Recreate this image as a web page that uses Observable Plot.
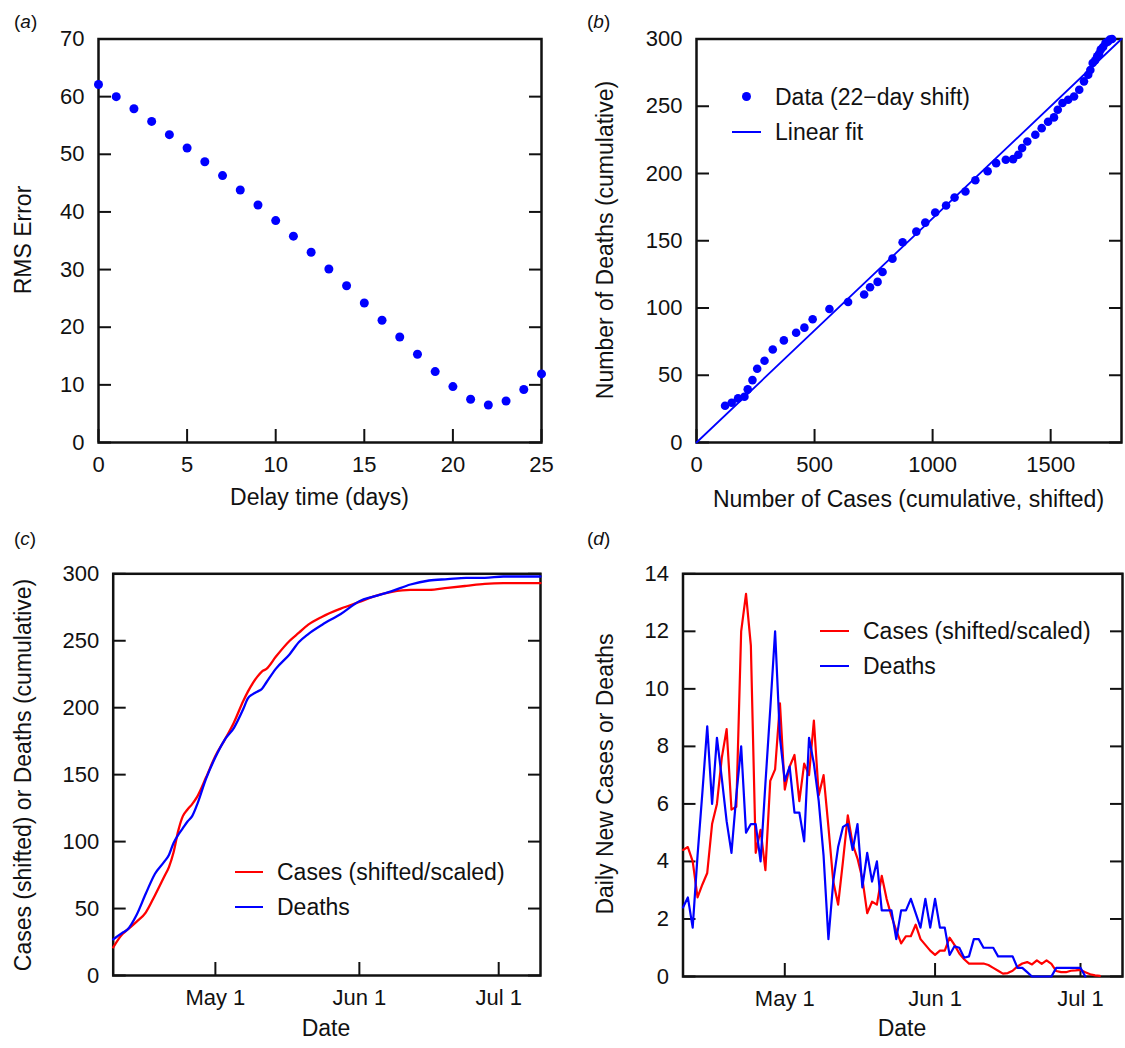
<!DOCTYPE html>
<html>
<head>
<meta charset="utf-8">
<script src="https://cdn.jsdelivr.net/npm/d3@7"></script>
<script src="https://cdn.jsdelivr.net/npm/@observablehq/plot@0.6"></script>
<style>
  html, body { margin: 0; padding: 0; background: #ffffff; }
  #root { position: relative; width: 1125px; height: 1048px; overflow: hidden;
          font-family: "Liberation Sans", Arial, Helvetica, sans-serif; color: #111; }
  #root svg { overflow: visible; }
  .abs { position: absolute; white-space: nowrap; line-height: 1; }
</style>
</head>
<body>
<div id="root"></div>
<script>
// ---------------- data ----------------
// (a) RMS error vs delay time
const delayDays = [0,1,2,3,4,5,6,7,8,9,10,11,12,13,14,15,16,17,18,19,20,21,22,23,24,25];
const rmsError  = [62.1,60.0,57.9,55.7,53.4,51.1,48.7,46.3,43.8,41.2,38.5,35.8,33.0,30.1,27.2,24.2,21.2,18.3,15.3,12.3,9.7,7.5,6.5,7.2,9.2,11.9];
const aXTicks = [0,5,10,15,20,25];
const aYTicks = [0,10,20,30,40,50,60,70];

// (b) deaths vs shifted cases
const scatterCases  = [121,149,176,203,217,237,257,288,323,370,422,457,492,563,642,710,735,767,788,830,873,931,969,1011,1057,1093,1139,1181,1233,1269,1310,1341,1363,1379,1401,1435,1462,1489,1514,1530,1550,1574,1599,1621,1641,1659,1668,1678,1688,1697,1705,1712,1722,1732,1742,1750,1760];
const scatterDeaths = [27.3,29.5,32.8,34,39.5,46.4,54.8,60.8,69.2,75.9,81.6,85.4,91.6,99.3,104.5,110,115.4,119.4,126.8,136.7,148.9,156.8,163.5,171,176.2,182.1,186.6,195,201.7,207.7,210.2,210.7,213.9,218.9,223.8,228.8,233.7,238.5,241.7,247.4,252.4,254.8,257.3,262.3,268.5,273.4,277,282.1,284,287.1,289,292.1,294,297,298,299.5,300];
const fitCases  = [0, 1800];
const fitDeaths = [0, 300];
const bXTicks = [0,500,1000,1500];
const bYTicks = [0,50,100,150,200,250,300];

// (c) cumulative curves (sampled dates)
const cumDates = ["2020-04-09","2020-04-11","2020-04-12","2020-04-14","2020-04-16","2020-04-18","2020-04-20","2020-04-21","2020-04-22","2020-04-23","2020-04-24","2020-04-25","2020-04-26","2020-04-27","2020-04-29","2020-05-01","2020-05-03","2020-05-05","2020-05-07","2020-05-08","2020-05-09","2020-05-10","2020-05-11","2020-05-12","2020-05-14","2020-05-17","2020-05-19","2020-05-21","2020-05-24","2020-05-28","2020-06-01","2020-06-04","2020-06-08","2020-06-12","2020-06-16","2020-06-20","2020-06-24","2020-06-28","2020-07-02","2020-07-06","2020-07-10"];
const casesCum  = [21,31,34,40,47,60,74,81,92,108,119,124,128,133,148,164,176,189,205,212,218,223,227,229,238,250,256,262,268,274,279,283,286.5,288,288,289.5,291,292.5,293,293,293];
const deathsCum = [27,32,34,45,61,76,85,90,99,105,110,115,119,127,147,163,176,185,199,207,210,212,214,219,229,240,249,255,262,270,279.5,283,287,292,295,296,297,297,298,298,298];
const cYTicks = [0,50,100,150,200,250,300];
const dateTicks = ["2020-05-01","2020-06-01","2020-07-01"];

// (d) daily new values, one per day starting at dailyStart
const dailyStart = "2020-04-10";
const casesDaily = [4.4,4.5,4.0,2.75,3.2,3.6,5.3,6.0,7.6,8.6,
  5.8,5.9,12.0,13.3,11.5,4.3,5.1,3.7,6.8,7.2,
  9.5,6.5,7.3,7.7,6.1,7.4,7.0,8.9,6.3,7.0,
  5.2,3.3,2.5,4.0,5.6,4.6,4.1,3.4,2.2,2.6,
  2.5,3.5,2.7,2.1,1.6,1.15,1.4,1.4,1.8,1.3,
  1.1,0.9,0.75,0.9,0.9,1.35,1.1,0.8,0.6,0.45,
  0.45,0.45,0.45,0.4,0.3,0.2,0.1,0.12,0.2,0.35,
  0.45,0.5,0.42,0.56,0.44,0.56,0.44,0.19,0.15,0.15,
  0.2,0.21,0.23,0.15,0.08,0.04,0.02];
const deathsDaily = [2.4,2.75,1.7,4.2,6.4,8.7,6.0,8.3,6.9,5.4,
  4.3,6.3,8.0,5.0,5.3,5.3,4.0,6.7,9.3,12.0,
  8.3,6.8,7.3,5.7,5.7,4.7,8.3,7.4,6.1,4.2,
  1.3,3.3,4.5,5.2,5.3,4.4,5.3,3.1,4.3,3.3,
  4.0,2.3,2.3,2.3,1.3,2.3,2.3,2.7,2.2,1.7,
  2.7,1.7,2.7,1.7,1.7,0.75,1.05,1.0,0.65,0.7,
  1.3,1.3,1.0,1.0,1.0,0.7,0.7,0.7,0.7,0.3,
  0.3,0.15,0,0,0,0,0,0.3,0.3,0.3,
  0.3,0.3,0.3,0];
const dYTicks = [0,2,4,6,8,10,12,14];

// ---------------- helpers ----------------
const FONT = '"Liberation Sans", Arial, Helvetica, sans-serif';
const BLUE = "#0000ff", RED = "#ff0000", INK = "#111111";
const root = document.getElementById("root");
const parseDate = s => new Date(s + "T00:00:00Z");
const fmtDate = d3.utcFormat("%b %-d");

function axes(xTicks, yTicks, xFormat, yFormat) {
  const blank = () => "";
  return [
    Plot.axisX({ticks: xTicks, tickFormat: xFormat, tickSize: 0, tickPadding: 13.5, fontSize: 22, label: null}),
    Plot.axisX({ticks: xTicks, tickFormat: blank, tickSize: 13, dy: -13, strokeWidth: 2, label: null}),
    Plot.axisY({ticks: yTicks, tickFormat: yFormat, tickSize: 0, tickPadding: 14, fontSize: 22, label: null}),
    Plot.axisY({ticks: yTicks, tickFormat: blank, tickSize: 13, dx: 13, strokeWidth: 2, label: null}),
    Plot.axisY({ticks: yTicks, anchor: "right", tickFormat: blank, tickSize: 13, dx: -13, strokeWidth: 2, label: null}),
    Plot.frame({stroke: INK, strokeWidth: 2.5})
  ];
}

function panel({left, top, width, height, frame, x, y, marks}) {
  const chart = Plot.plot({
    width, height,
    marginLeft: frame[0] - left, marginRight: left + width - frame[1],
    marginTop: frame[2] - top, marginBottom: top + height - frame[3],
    x, y,
    style: {fontFamily: FONT, fontSize: "22px", color: INK, background: "transparent", overflow: "visible"},
    marks
  });
  chart.style.position = "absolute";
  chart.style.left = left + "px";
  chart.style.top = top + "px";
  root.appendChild(chart);
}

function text(content, x, y, {size = 23, rotate = false, anchor = "middle", html = false} = {}) {
  const d = document.createElement("div");
  d.className = "abs";
  d.style.fontSize = size + "px";
  d.style.left = x + "px";
  d.style.top = y + "px";
  if (html) d.innerHTML = content; else d.textContent = content;
  const tx = anchor === "middle" ? "-50%" : "0";
  d.style.transform = `translate(${tx},-50%)` + (rotate ? " rotate(-90deg)" : "");
  root.appendChild(d);
}

function swatchLine(x1, x2, y, color, w) {
  const d = document.createElement("div");
  d.className = "abs";
  Object.assign(d.style, {left: x1 + "px", top: Math.round(y - w / 2) + "px", width: (x2 - x1) + "px", height: w + "px", background: color});
  root.appendChild(d);
}
function swatchDot(cx, cy, r, color) {
  const d = document.createElement("div");
  d.className = "abs";
  Object.assign(d.style, {left: (cx - r) + "px", top: (cy - r) + "px", width: 2 * r + "px", height: 2 * r + "px", borderRadius: "50%", background: color});
  root.appendChild(d);
}

// ---------------- panel (a) ----------------
const aData = delayDays.map((d, i) => ({delay: d, rms: rmsError[i]}));
panel({
  left: 0, top: 0, width: 560, height: 520, frame: [98, 541, 38.5, 442],
  x: {domain: [0, 25]}, y: {domain: [0, 70]},
  marks: [
    ...axes(aXTicks, aYTicks, d => String(d), d => String(d)),
    Plot.dot(aData, {x: "delay", y: "rms", r: 4.5, fill: BLUE, stroke: "none"})
  ]
});

// ---------------- panel (b) ----------------
const bData = scatterCases.map((c, i) => ({cases: c, deaths: scatterDeaths[i]}));
const fitData = fitCases.map((c, i) => ({cases: c, deaths: fitDeaths[i]}));
panel({
  left: 560, top: 0, width: 565, height: 520, frame: [696, 1121, 38.5, 442],
  x: {domain: [0, 1800]}, y: {domain: [0, 300]},
  marks: [
    ...axes(bXTicks, bYTicks, d => String(d), d => String(d)),
    Plot.line(fitData, {x: "cases", y: "deaths", stroke: BLUE, strokeWidth: 1.8}),
    Plot.dot(bData, {x: "cases", y: "deaths", r: 4.3, fill: BLUE, stroke: "none"})
  ]
});

// ---------------- panel (c) ----------------
const cCases = cumDates.map((s, i) => ({date: parseDate(s), value: casesCum[i]}));
const cDeaths = cumDates.map((s, i) => ({date: parseDate(s), value: deathsCum[i]}));
panel({
  left: 0, top: 520, width: 560, height: 528, frame: [112.7, 540, 573.3, 975],
  x: {type: "utc", domain: [parseDate("2020-04-09"), parseDate("2020-07-10")]}, y: {domain: [0, 300]},
  marks: [
    ...axes(dateTicks.map(parseDate), cYTicks, fmtDate, d => String(d)),
    Plot.line(cCases, {x: "date", y: "value", stroke: RED, strokeWidth: 2.3, curve: "monotone-x"}),
    Plot.line(cDeaths, {x: "date", y: "value", stroke: BLUE, strokeWidth: 2.3, curve: "monotone-x"})
  ]
});

// ---------------- panel (d) ----------------
const start = parseDate(dailyStart);
const dCases = casesDaily.map((v, i) => ({date: d3.utcDay.offset(start, i), value: v}));
const dDeaths = deathsDaily.map((v, i) => ({date: d3.utcDay.offset(start, i), value: v}));
panel({
  left: 560, top: 520, width: 565, height: 528, frame: [682.5, 1122, 573.3, 976],
  x: {type: "utc", domain: [parseDate("2020-04-10"), new Date(Date.UTC(2020, 6, 9, 16))]}, y: {domain: [0, 14]},
  marks: [
    ...axes(dateTicks.map(parseDate), dYTicks, fmtDate, d => String(d)),
    Plot.line(dCases, {x: "date", y: "value", stroke: RED, strokeWidth: 2.2}),
    Plot.line(dDeaths, {x: "date", y: "value", stroke: BLUE, strokeWidth: 2.2})
  ]
});

// ---------------- texts ----------------
text("(<i>a</i>)", 14, 21, {size: 19, anchor: "start", html: true});
text("(<i>b</i>)", 587, 21, {size: 19, anchor: "start", html: true});
text("(<i>c</i>)", 14, 538, {size: 19, anchor: "start", html: true});
text("(<i>d</i>)", 587, 538, {size: 19, anchor: "start", html: true});

text("RMS Error", 22.5, 240, {rotate: true});
text("Number of Deaths (cumulative)", 605, 240, {rotate: true});
text("Cases (shifted) or Deaths (cumulative)", 22.5, 775, {rotate: true});
text("Daily New Cases or Deaths", 605, 774, {rotate: true});

text("Delay time (days)", 319.5, 497);
text("Number of Cases (cumulative, shifted)", 908.5, 499);
text("Date", 326, 1028);
text("Date", 902, 1028);

// legends
swatchDot(746.7, 96.7, 4.5, BLUE);
text("Data (22\u2212day shift)", 775, 96.7, {anchor: "start"});
swatchLine(732, 761, 132, BLUE, 2);
text("Linear fit", 775, 131.7, {anchor: "start"});

swatchLine(235, 263, 872, RED, 2);
text("Cases (shifted/scaled)", 277, 872, {anchor: "start"});
swatchLine(235, 263, 907, BLUE, 2);
text("Deaths", 277, 907, {anchor: "start"});

swatchLine(820, 849, 631, RED, 2);
text("Cases (shifted/scaled)", 863, 630.7, {anchor: "start"});
swatchLine(820, 849, 666, BLUE, 2);
text("Deaths", 863, 666, {anchor: "start"});
</script>
</body>
</html>
